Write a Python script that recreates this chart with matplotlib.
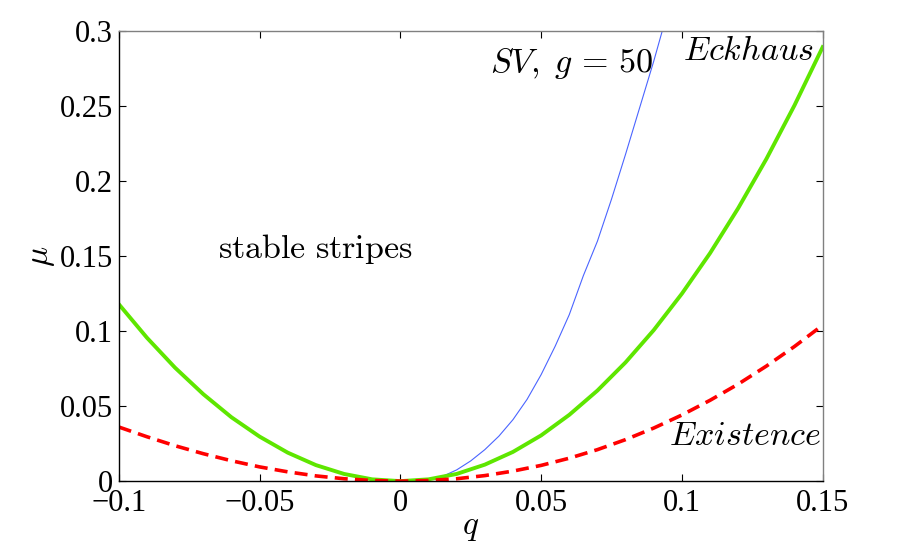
import numpy as np
import matplotlib
matplotlib.use("Agg")
from matplotlib import pyplot as plt

# values
q_grid = [-0.10, -0.09, -0.08, -0.07, -0.06, -0.05, -0.04, -0.03, -0.02, -0.01,
          0.00, 0.01, 0.02, 0.03, 0.04, 0.05, 0.06, 0.07, 0.08, 0.09,
          0.10, 0.11, 0.12, 0.13, 0.14, 0.15]

mu_eckhaus = [0.118, 0.0956, 0.0756, 0.058, 0.0426, 0.0297, 0.019, 0.0107, 0.0048, 0.0012,
              0.0, 0.0012, 0.0048, 0.011, 0.0195, 0.0305, 0.0442, 0.0604, 0.0792, 0.1007,
              0.125, 0.152, 0.182, 0.2148, 0.2506, 0.2894]

mu_existence = [0.0361, 0.0296, 0.0236, 0.0183, 0.0136, 0.0095, 0.0062, 0.0035, 0.0016, 0.0004,
                0.0, 0.0004, 0.0016, 0.0037, 0.0067, 0.0105, 0.0153, 0.021, 0.0277, 0.0354,
                0.0441, 0.0539, 0.0647, 0.0767, 0.0898, 0.104]

q_sv = [0.0, 0.005, 0.01, 0.015, 0.02, 0.025, 0.03, 0.035, 0.04, 0.045, 0.05,
        0.055, 0.06, 0.065, 0.07, 0.075, 0.08, 0.085, 0.09, 0.093]
mu_sv = [0.0, 0.0002, 0.0012, 0.0032, 0.0075, 0.0135, 0.021, 0.030, 0.041, 0.0545, 0.071,
         0.090, 0.111, 0.137, 0.160, 0.188, 0.218, 0.249, 0.280, 0.300]

xticks = [-0.1, -0.05, 0, 0.05, 0.1, 0.15]
xticklabels = ["\u22120.1", "\u22120.05", "0", "0.05", "0.1", "0.15"]
yticks = [0, 0.05, 0.1, 0.15, 0.2, 0.25, 0.3]
yticklabels = ["0", "0.05", "0.1", "0.15", "0.2", "0.25", "0.3"]

plt.rcParams["font.family"] = ["Liberation Serif", "DejaVu Serif"]
plt.rcParams["mathtext.fontset"] = "cm"

fig = plt.figure(figsize=(9.07, 5.48), dpi=100)
ax = fig.add_axes([0.131, 0.122, 0.776, 0.821])

ax.plot(q_sv, mu_sv, color="#4a64ff", lw=0.8)
ax.plot(q_grid, mu_eckhaus, color="#5ee600", lw=2.8)
ax.plot(q_grid, mu_existence, color="#ff0000", lw=2.6, ls=(0, (3.6, 2.0)))

ax.set_xlim(-0.1, 0.15)
ax.set_ylim(0, 0.3)
ax.set_xticks(xticks)
ax.set_xticklabels(xticklabels)
ax.set_yticks(yticks)
ax.set_yticklabels(yticklabels)
ax.tick_params(direction="in", length=5, width=0.8, labelsize=22,
               top=True, right=True, pad=4)
ax.tick_params(axis="x", pad=6)

# right-hand ticks are grey in the original, the rest black
for t in ax.yaxis.get_major_ticks():
    t.tick1line.set_color("black")
    t.tick2line.set_color("#808080")
for t in ax.xaxis.get_major_ticks():
    t.tick1line.set_color("#505050")
    t.tick2line.set_color("black")

for side in ["left", "bottom"]:
    ax.spines[side].set_color("black")
for side in ["top", "right"]:
    ax.spines[side].set_color("#808080")
for s in ax.spines.values():
    s.set_linewidth(1.0)

ax.set_xlabel(r"$q$", fontsize=24, labelpad=-4)
ax.set_ylabel(r"$\mu$", fontsize=24, labelpad=2)

ax.text(-0.0648, 0.155, r"$\mathrm{stable\ stripes}$", fontsize=24.5, va="center")
ax.text(0.0317, 0.273, r"$SV,\;g\,=\,50$", fontsize=24.5, va="baseline")
ax.text(0.1467, 0.281, r"$Eckhaus$", fontsize=24.5, va="baseline", ha="right")
ax.text(0.1495, 0.024, r"$Existence$", fontsize=24.5, va="baseline", ha="right")

fig.savefig("out.png", dpi=100)
